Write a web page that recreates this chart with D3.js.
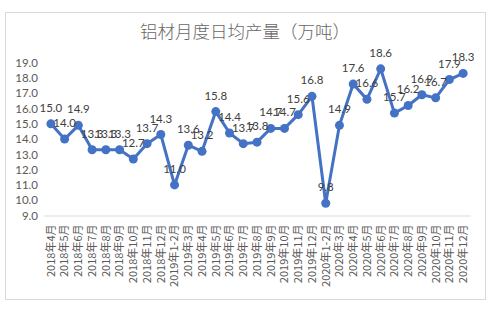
<!DOCTYPE html>
<html><head><meta charset="utf-8">
<script src="https://cdn.jsdelivr.net/npm/d3@7"></script>
<style>body{margin:0;background:#fff}svg{display:block}</style>
</head><body><svg id="c" width="496" height="323"></svg>
<script>
const title = "铝材月度日均产量（万吨）";
const categories = ["2018年4月","2018年5月","2018年6月","2018年7月","2018年8月","2018年9月","2018年10月","2018年11月","2018年12月","2019年1-2月","2019年3月","2019年4月","2019年5月","2019年6月","2019年7月","2019年8月","2019年9月","2019年10月","2019年11月","2019年12月","2020年1-2月","2020年3月","2020年4月","2020年5月","2020年6月","2020年7月","2020年8月","2020年9月","2020年10月","2020年11月","2020年12月"];
const values = [15.0,14.0,14.9,13.3,13.3,13.3,12.7,13.7,14.3,11.0,13.6,13.2,15.8,14.4,13.7,13.8,14.7,14.7,15.6,16.8,9.8,14.9,17.6,16.6,18.6,15.7,16.2,16.9,16.7,17.9,18.3];
const yTicks = [9,10,11,12,13,14,15,16,17,18,19];

const svg = d3.select("#c");
const numFont = "Lato, 'Liberation Sans', sans-serif";
const cjk = "'Noto Sans CJK SC', sans-serif";
svg.append("rect").attr("x",5.5).attr("y",12.5).attr("width",480).attr("height",287)
  .attr("fill","#fff").attr("stroke","#d9d9d9");
svg.append("text").attr("x",245).attr("y",38).attr("text-anchor","middle")
  .attr("font-family",cjk).attr("font-size",17.5).attr("font-weight",300).attr("fill","#666666").text(title);

const x = d3.scaleBand().domain(categories).range([44,470]);
const y = d3.scaleLinear().domain([9,19]).range([215.5,62.7]);

const yAxis = svg.append("g").attr("transform","translate(44,0)")
  .call(d3.axisLeft(y).tickValues(yTicks).tickFormat(d3.format(".1f")).tickSize(0).tickPadding(6));
yAxis.select(".domain").remove();
yAxis.selectAll("text").attr("font-family",numFont).attr("font-size",11.5).attr("fill","#595959");

const xAxis = svg.append("g").attr("transform","translate(0,215.5)")
  .call(d3.axisBottom(x).tickSize(0).tickSizeOuter(0));
xAxis.select(".domain").attr("stroke","#d9d9d9");
xAxis.selectAll("text").attr("font-family",cjk).attr("font-size",11).attr("fill","#595959")
  .attr("transform","rotate(-90)").attr("text-anchor","end").attr("dx","-9").attr("dy","0.35em").attr("y",0).attr("x",0);

const line = d3.line().x((d,i)=>x(categories[i])+x.bandwidth()/2).y(d=>y(d));
svg.append("path").datum(values).attr("d",line).attr("fill","none")
  .attr("stroke","#4472c4").attr("stroke-width",3).attr("stroke-linejoin","round");
svg.append("g").selectAll("circle").data(values).join("circle")
  .attr("cx",(d,i)=>x(categories[i])+x.bandwidth()/2).attr("cy",d=>y(d)).attr("r",4.5).attr("fill","#4472c4");
svg.append("g").selectAll("text").data(values).join("text")
  .attr("x",(d,i)=>x(categories[i])+x.bandwidth()/2).attr("y",d=>y(d)-12)
  .attr("text-anchor","middle").attr("font-family",numFont).attr("font-size",11.5).attr("fill","#404040")
  .text(d=>d.toFixed(1));
</script></body></html>
